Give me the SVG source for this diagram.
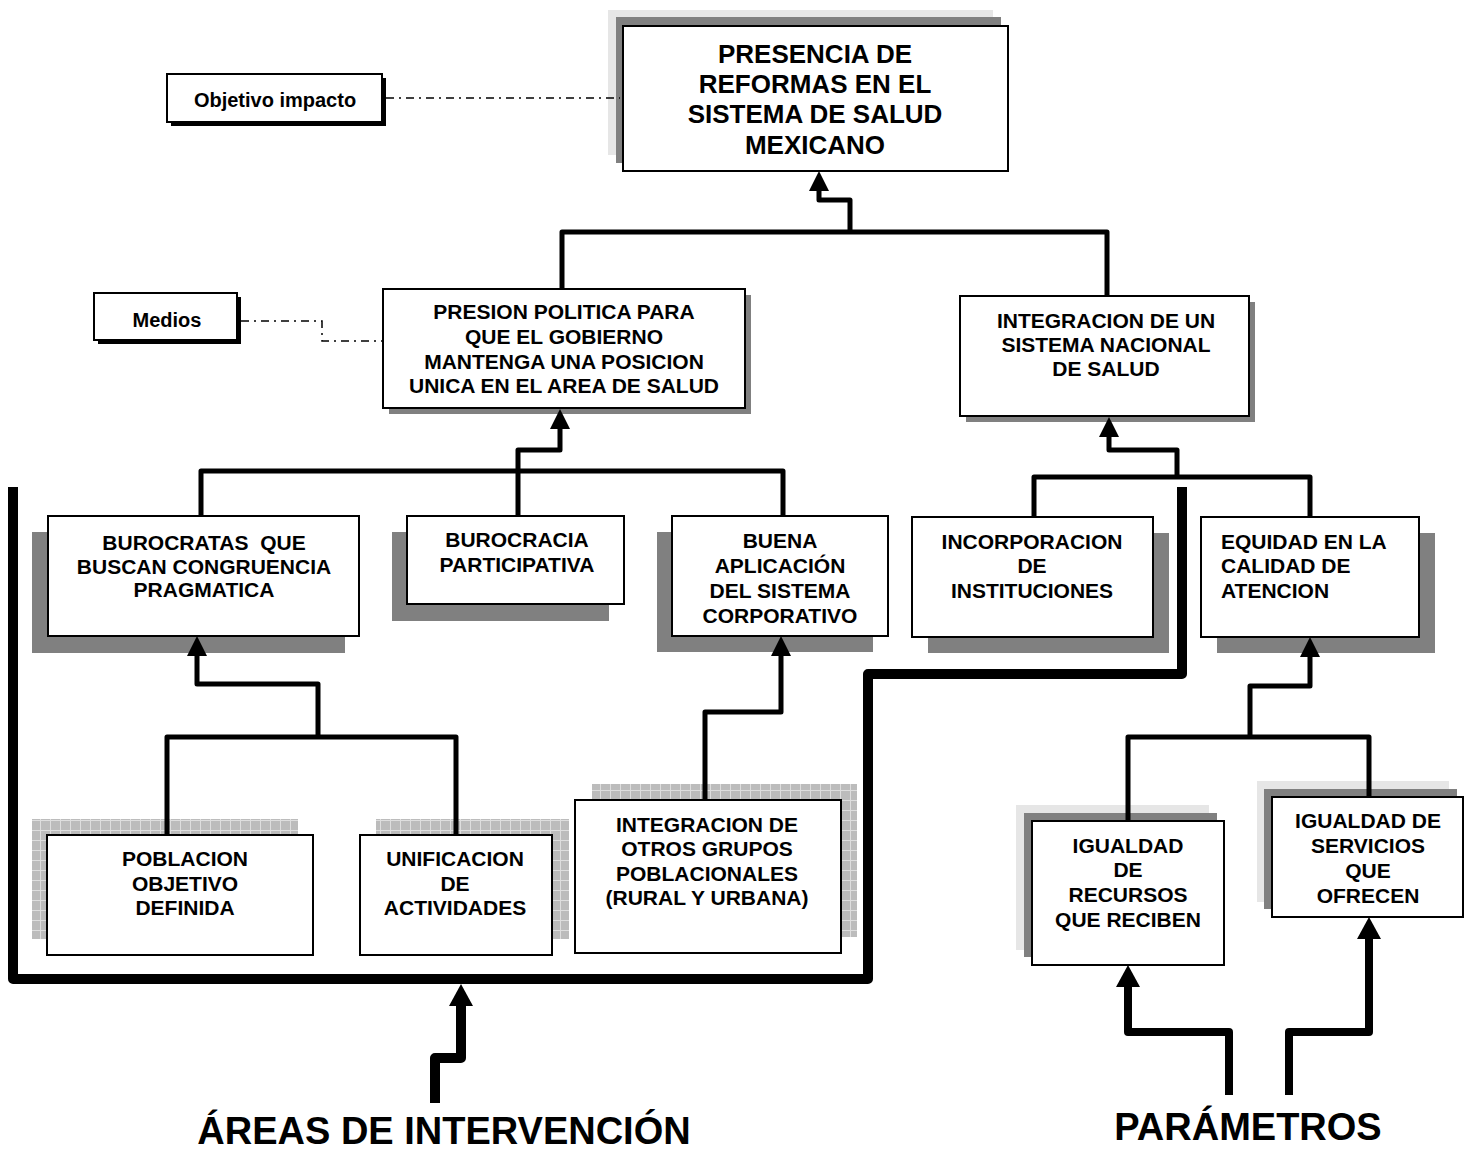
<svg xmlns="http://www.w3.org/2000/svg" width="1469" height="1151" viewBox="0 0 1469 1151">
  <style>
    text { font-family: "Liberation Sans", Arial, sans-serif; font-weight: bold; fill: #000; }
    .t21 { font-size: 21px; text-anchor: middle; }
    .t26 { font-size: 26px; text-anchor: middle; }
    .left { text-anchor: start; }
    .big { font-size: 38px; text-anchor: middle; }
    .box { fill: #fff; stroke: #000; stroke-width: 2; }
    .sh { fill: #808080; }
    .shl { fill: #e6e6e6; }
    .shb { fill: #000; }
    .chk { fill: url(#checker); }
    .link { fill: none; stroke: #000; stroke-width: 5; stroke-linejoin: round; }
    .arrow { marker-end: url(#head); }
    .thick { fill: none; stroke: #000; stroke-width: 10; stroke-linejoin: round; }
    .param { fill: none; stroke: #000; stroke-width: 8; stroke-linejoin: round; marker-end: url(#headL); }
    .dashdot { fill: none; stroke: #000; stroke-width: 1.5; stroke-dasharray: 8 5 2 5; }
  </style>
  <defs>
    <pattern id="checker" width="10" height="10" patternUnits="userSpaceOnUse">
      <rect width="10" height="10" fill="#bcbcbc"/>
      <rect width="10" height="1" fill="#dedede"/>
      <rect width="1" height="10" fill="#dedede"/>
    </pattern>
    <marker id="head" viewBox="0 0 20 20" refX="0" refY="10" markerWidth="20" markerHeight="20" markerUnits="userSpaceOnUse" orient="auto">
      <path d="M0,0 L20,10 L0,20 Z" fill="#000"/>
    </marker>
    <marker id="headL" viewBox="0 0 22 24" refX="0" refY="12" markerWidth="22" markerHeight="24" markerUnits="userSpaceOnUse" orient="auto">
      <path d="M0,0 L22,12 L0,24 Z" fill="#000"/>
    </marker>
  </defs>

  <!-- top goal -->
  <g id="reformas">
    <rect class="shl" x="608" y="10" width="385" height="145"/>
    <rect class="sh" x="616" y="17" width="385" height="146"/>
    <rect class="box" x="623" y="26" width="385" height="145"/>
    <text class="t26" x="815" y="63">PRESENCIA DE</text>
    <text class="t26" x="815" y="93">REFORMAS EN EL</text>
    <text class="t26" x="815" y="123">SISTEMA DE SALUD</text>
    <text class="t26" x="815" y="154">MEXICANO</text>
  </g>

  <g id="objetivo-impacto">
    <rect class="shb" x="171" y="78" width="215" height="48"/>
    <rect class="box" x="167" y="74" width="215" height="48"/>
    <text class="t21" x="275" y="107" style="font-size:20px">Objetivo impacto</text>
  </g>

  <g id="medios">
    <rect class="shb" x="98" y="297" width="143" height="47"/>
    <rect class="box" x="94" y="293" width="143" height="47"/>
    <text class="t21" x="167" y="327" style="font-size:20px">Medios</text>
  </g>

  <!-- second level -->
  <g id="presion-politica">
    <rect class="sh" x="389" y="295" width="362" height="119"/>
    <rect class="box" x="383" y="289" width="362" height="119"/>
    <text class="t21" x="564" y="319">PRESION POLITICA PARA</text>
    <text class="t21" x="564" y="344">QUE EL GOBIERNO</text>
    <text class="t21" x="564" y="369">MANTENGA UNA POSICION</text>
    <text class="t21" x="564" y="393">UNICA EN EL AREA DE SALUD</text>
  </g>

  <g id="sistema-nacional">
    <rect class="sh" x="966" y="302" width="289" height="120"/>
    <rect class="box" x="960" y="296" width="289" height="120"/>
    <text class="t21" x="1106" y="328">INTEGRACION DE UN</text>
    <text class="t21" x="1106" y="352">SISTEMA NACIONAL</text>
    <text class="t21" x="1106" y="376">DE SALUD</text>
  </g>

  <!-- third level -->
  <g id="burocratas">
    <rect class="sh" x="32" y="532" width="313" height="121"/>
    <rect class="box" x="48" y="516" width="311" height="120"/>
    <text class="t21" x="204" y="550" xml:space="preserve">BUROCRATAS  QUE</text>
    <text class="t21" x="204" y="574">BUSCAN CONGRUENCIA</text>
    <text class="t21" x="204" y="597">PRAGMATICA</text>
  </g>

  <g id="burocracia">
    <rect class="sh" x="392" y="532" width="217" height="89"/>
    <rect class="box" x="407" y="516" width="217" height="88"/>
    <text class="t21" x="517" y="547">BUROCRACIA</text>
    <text class="t21" x="517" y="572">PARTICIPATIVA</text>
  </g>

  <g id="buena-aplicacion">
    <rect class="sh" x="657" y="532" width="216" height="120"/>
    <rect class="box" x="672" y="516" width="216" height="120"/>
    <text class="t21" x="780" y="548">BUENA</text>
    <text class="t21" x="780" y="573">APLICACIÓN</text>
    <text class="t21" x="780" y="598">DEL SISTEMA</text>
    <text class="t21" x="780" y="623">CORPORATIVO</text>
  </g>

  <g id="incorporacion">
    <rect class="sh" x="928" y="533" width="241" height="120"/>
    <rect class="box" x="912" y="517" width="241" height="120"/>
    <text class="t21" x="1032" y="549">INCORPORACION</text>
    <text class="t21" x="1032" y="573">DE</text>
    <text class="t21" x="1032" y="598">INSTITUCIONES</text>
  </g>

  <g id="equidad">
    <rect class="sh" x="1217" y="533" width="218" height="120"/>
    <rect class="box" x="1201" y="517" width="218" height="120"/>
    <text class="t21 left" x="1221" y="549">EQUIDAD EN LA</text>
    <text class="t21 left" x="1221" y="573">CALIDAD DE</text>
    <text class="t21 left" x="1221" y="598">ATENCION</text>
  </g>

  <!-- fourth level -->
  <g id="poblacion">
    <rect class="chk" x="32" y="819" width="266" height="120"/>
    <rect class="box" x="47" y="835" width="266" height="120"/>
    <text class="t21" x="185" y="866">POBLACION</text>
    <text class="t21" x="185" y="891">OBJETIVO</text>
    <text class="t21" x="185" y="915">DEFINIDA</text>
  </g>

  <g id="unificacion">
    <rect class="chk" x="376" y="819" width="193" height="120"/>
    <rect class="box" x="360" y="835" width="192" height="120"/>
    <text class="t21" x="455" y="866">UNIFICACION</text>
    <text class="t21" x="455" y="891">DE</text>
    <text class="t21" x="455" y="915">ACTIVIDADES</text>
  </g>

  <g id="otros-grupos">
    <rect class="chk" x="592" y="784" width="265" height="153"/>
    <rect class="box" x="575" y="800" width="266" height="153"/>
    <text class="t21" x="707" y="832">INTEGRACION DE</text>
    <text class="t21" x="707" y="856">OTROS GRUPOS</text>
    <text class="t21" x="707" y="881">POBLACIONALES</text>
    <text class="t21" x="707" y="905">(RURAL Y URBANA)</text>
  </g>

  <g id="recursos">
    <rect class="shl" x="1016" y="805" width="193" height="145"/>
    <rect class="sh" x="1024" y="813" width="193" height="144"/>
    <rect class="box" x="1032" y="821" width="192" height="144"/>
    <text class="t21" x="1128" y="853">IGUALDAD</text>
    <text class="t21" x="1128" y="877">DE</text>
    <text class="t21" x="1128" y="902">RECURSOS</text>
    <text class="t21" x="1128" y="927">QUE RECIBEN</text>
  </g>

  <g id="servicios">
    <rect class="shl" x="1257" y="781" width="192" height="121"/>
    <rect class="sh" x="1264" y="789" width="193" height="120"/>
    <rect class="box" x="1272" y="797" width="191" height="120"/>
    <text class="t21" x="1368" y="828">IGUALDAD DE</text>
    <text class="t21" x="1368" y="853">SERVICIOS</text>
    <text class="t21" x="1368" y="878">QUE</text>
    <text class="t21" x="1368" y="903">OFRECEN</text>
  </g>

  <!-- bottom labels -->
  <g id="areas-label">
    <text class="big" x="444" y="1144">ÁREAS DE INTERVENCIÓN</text>
  </g>
  <g id="parametros-label">
    <text class="big" x="1248" y="1140">PARÁMETROS</text>
  </g>

  <!-- connectors -->
  <g id="connectors">
    <!-- objective annotations -->
    <path class="dashdot" d="M386,98 H620"/>
    <path class="dashdot" d="M241,321 H322 V341 H382"/>

    <!-- into the main goal -->
    <path class="link" d="M562,289 V232 H1107 V296"/>
    <path class="link arrow" d="M850,232 V200 H819 V191"/>

    <!-- into political pressure -->
    <path class="link" d="M201,517 V471 H783 V516"/>
    <path class="link arrow" d="M518,516 V450 H560 V429"/>

    <!-- into national system -->
    <path class="link" d="M1034,517 V477 H1310 V517"/>
    <path class="link arrow" d="M1177,477 V450 H1109 V437"/>

    <!-- into bureaucrats -->
    <path class="link" d="M167,835 V737 H456 V835"/>
    <path class="link arrow" d="M318,737 V684 H197 V656"/>

    <!-- into corporate system -->
    <path class="link arrow" d="M705,800 V712 H781 V656"/>

    <!-- into equity -->
    <path class="link" d="M1128,821 V737 H1369 V797"/>
    <path class="link arrow" d="M1250,737 V686 H1310 V657"/>

    <!-- intervention area outline -->
    <path class="thick" d="M13,487 V979 H868 V674 H1182 V487"/>
    <path class="thick" d="M435,1103 V1058 H461 V1006" marker-end="url(#headL)"/>

    <!-- parameter arrows -->
    <path class="param" d="M1229,1095 V1032 H1128 V987"/>
    <path class="param" d="M1289,1095 V1032 H1369 V939"/>
  </g>
</svg>
